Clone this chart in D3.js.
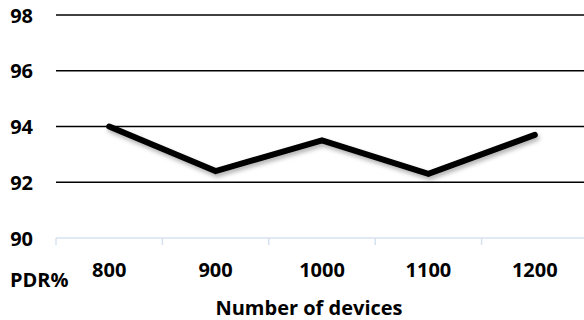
<!DOCTYPE html>
<html><head><meta charset="utf-8">
<script src="https://cdn.jsdelivr.net/npm/d3@7"></script>
<style>body{margin:0;background:#fff}svg text{font-family:"Open Sans","Noto Sans",sans-serif;font-weight:700;fill:#000}</style>
</head><body><svg id="c" width="584" height="320"></svg>
<script>
const categories = ["800","900","1000","1100","1200"];
const pdr = [94.0, 92.4, 93.5, 92.3, 93.7];
const yTicks = [90, 92, 94, 96, 98];
const yTitle = "PDR%";
const xTitle = "Number of devices";

(function(){
const svg = d3.select("#c");
const mLeft = 56, mRight = 588, mTop = 15, mBottom = 238;
const fs = 20;
const x = d3.scaleBand().domain(categories).range([mLeft, mRight]);
const y = d3.scaleLinear().domain([90, 98]).range([mBottom, mTop]);

const defs = svg.append("defs");
const f = defs.append("filter").attr("id","sh").attr("x","-10%").attr("y","-50%").attr("width","120%").attr("height","200%");
f.append("feDropShadow").attr("dx",1.5).attr("dy",3).attr("stdDeviation",2).attr("flood-color","#000").attr("flood-opacity",0.3);

svg.append("g").selectAll("line").data(yTicks.filter(d=>d>90)).join("line")
  .attr("x1", mLeft).attr("x2", 584).attr("y1", d=>y(d)).attr("y2", d=>y(d))
  .attr("stroke","#000").attr("stroke-width",1.5);

const xa = svg.append("g");
xa.append("line").attr("x1",mLeft).attr("x2",584).attr("y1",mBottom).attr("y2",mBottom).attr("stroke","#d6e2f0").attr("stroke-width",1.5);
const bounds = categories.map(c=>x(c)).concat([x(categories[categories.length-1])+x.bandwidth()]);
xa.selectAll("line.t").data(bounds.filter(b=>b<584)).join("line").attr("class","t")
  .attr("x1",d=>d).attr("x2",d=>d).attr("y1",mBottom).attr("y2",mBottom+7).attr("stroke","#d6e2f0").attr("stroke-width",1.5);
xa.selectAll("text").data(categories).join("text")
  .attr("x", d=>x(d)+x.bandwidth()/2).attr("y", 277).attr("text-anchor","middle").attr("font-size",fs).text(d=>d);

svg.append("g").selectAll("text").data(yTicks).join("text")
  .attr("x", 33).attr("y", d=>y(d)+7.5).attr("text-anchor","end").attr("font-size",fs).text(d=>d);

svg.append("text").attr("x",10).attr("y",287).attr("font-size",fs).text(yTitle);
svg.append("text").attr("x",309).attr("y",315).attr("text-anchor","middle").attr("font-size",fs).text(xTitle);

const line = d3.line().x((d,i)=>x(categories[i])+x.bandwidth()/2).y(d=>y(d));
svg.append("path").datum(pdr).attr("d", line).attr("fill","none").attr("stroke","#000")
  .attr("stroke-width",6).attr("stroke-linecap","round").attr("stroke-linejoin","miter").attr("filter","url(#sh)");
})();
</script></body></html>
